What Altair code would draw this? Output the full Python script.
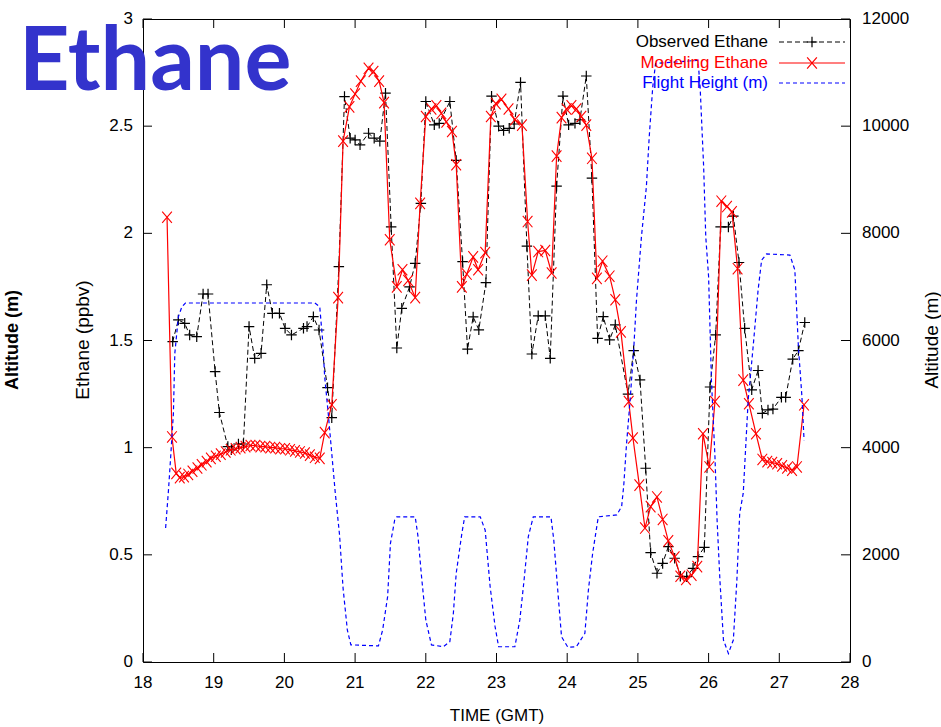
import altair as alt
import pandas as pd

# ---- observed ethane (ppbv) ----
obs_time = [18.42, 18.50, 18.59, 18.66, 18.76, 18.85, 18.92, 19.02, 19.08, 19.20,
            19.25, 19.35, 19.42, 19.50, 19.58, 19.67, 19.75, 19.83, 19.93, 20.01,
            20.10, 20.27, 20.32, 20.41, 20.49, 20.61, 20.67, 20.77, 20.85, 20.93,
            21.00, 21.07, 21.19, 21.27, 21.35, 21.43, 21.51, 21.59, 21.66, 21.77,
            21.85, 21.93, 22.00, 22.12, 22.19, 22.34, 22.43, 22.52, 22.59, 22.67,
            22.75, 22.85, 22.93, 23.03, 23.10, 23.18, 23.25, 23.34, 23.43, 23.50,
            23.59, 23.69, 23.76, 23.85, 23.94, 24.02, 24.11, 24.18, 24.27, 24.35,
            24.43, 24.51, 24.60, 24.68, 24.86, 24.94, 25.03, 25.11, 25.18, 25.27,
            25.35, 25.43, 25.52, 25.60, 25.69, 25.78, 25.85, 25.94, 26.02, 26.10,
            26.17, 26.28, 26.35, 26.43, 26.51, 26.61, 26.70, 26.76, 26.84, 26.91,
            27.03, 27.09, 27.19, 27.27, 27.36]
obs_ethane = [1.495, 1.596, 1.58, 1.526, 1.518, 1.717, 1.717, 1.355, 1.164, 1.005,
              0.99, 1.017, 1.017, 1.565, 1.417, 1.44, 1.76, 1.627, 1.627, 1.557,
              1.526, 1.557, 1.565, 1.611, 1.549, 1.28, 1.14, 1.845, 2.638, 2.444,
              2.436, 2.413, 2.467, 2.444, 2.43, 2.654, 2.03, 1.465, 1.65, 1.75,
              1.86, 2.14, 2.615, 2.506, 2.513, 2.615, 2.34, 1.868, 1.46, 1.61,
              1.55, 1.77, 2.64, 2.50, 2.48, 2.49, 2.51, 2.704, 1.94, 1.437,
              1.615, 1.615, 1.417, 2.22, 2.64, 2.506, 2.513, 2.53, 2.734, 2.258,
              1.51, 1.611, 1.503, 1.573, 1.25, 1.453, 1.316, 0.904, 0.51, 0.414,
              0.46, 0.538, 0.484, 0.40, 0.398, 0.437, 0.492, 0.535, 1.283, 1.526,
              2.03, 2.03, 2.08, 1.864, 1.557, 1.27, 1.36, 1.16, 1.176, 1.18,
              1.235, 1.235, 1.413, 1.453, 1.584]

# ---- modelled ethane (ppbv) ----
mod_time = [18.34, 18.41, 18.47, 18.52, 18.58, 18.64, 18.70, 18.77, 18.83, 18.90,
            18.96, 19.03, 19.10, 19.17, 19.24, 19.31, 19.38, 19.45, 19.52, 19.59,
            19.66, 19.73, 19.80, 19.87, 19.94, 20.01, 20.08, 20.15, 20.22, 20.29,
            20.36, 20.43, 20.50, 20.57, 20.67, 20.76, 20.83, 20.92, 21.00, 21.08,
            21.19, 21.26, 21.34, 21.41, 21.49, 21.59, 21.67, 21.75, 21.85, 21.92,
            22.00, 22.08, 22.15, 22.22, 22.29, 22.37, 22.43, 22.51, 22.58, 22.67,
            22.74, 22.84, 22.92, 22.99, 23.07, 23.17, 23.26, 23.36, 23.44, 23.50,
            23.59, 23.69, 23.78, 23.85, 23.92, 23.99, 24.06, 24.13, 24.20, 24.27,
            24.35, 24.42, 24.50, 24.60, 24.68, 24.76, 24.87, 24.93, 25.02, 25.10,
            25.18, 25.27, 25.35, 25.43, 25.52, 25.60, 25.68, 25.76, 25.84, 25.92,
            26.01, 26.09, 26.18, 26.26, 26.33, 26.41, 26.49, 26.57, 26.67, 26.76,
            26.83, 26.90, 26.97, 27.04, 27.11, 27.18, 27.25, 27.35]
mod_ethane = [2.075, 1.05, 0.88, 0.86, 0.865, 0.875, 0.89, 0.905, 0.92, 0.935,
              0.95, 0.96, 0.97, 0.98, 0.99, 0.995, 1.0, 1.005, 1.01, 1.01,
              1.005, 1.005, 1.0, 1.0, 0.995, 0.995, 0.99, 0.985, 0.98, 0.975,
              0.965, 0.955, 0.95, 1.07, 1.2, 1.70, 2.43, 2.59, 2.65, 2.71,
              2.77, 2.755, 2.71, 2.61, 1.97, 1.75, 1.83, 1.78, 1.70, 2.14,
              2.545, 2.58, 2.595, 2.56, 2.52, 2.475, 2.32, 1.75, 1.81, 1.89,
              1.83, 1.91, 2.545, 2.605, 2.625, 2.58, 2.53, 2.505, 2.055, 1.805,
              1.915, 1.92, 1.815, 2.36, 2.54, 2.58, 2.595, 2.58, 2.545, 2.505,
              2.35, 1.79, 1.87, 1.80, 1.69, 1.54, 1.215, 1.045, 0.825, 0.625,
              0.725, 0.77, 0.665, 0.565, 0.49, 0.40, 0.385, 0.405, 0.445, 1.065,
              0.91, 1.215, 2.15, 2.125, 2.10, 1.835, 1.315, 1.205, 1.065, 0.945,
              0.935, 0.93, 0.925, 0.915, 0.905, 0.895, 0.91, 1.20]

# ---- flight height (m) ----
fl_time = [18.32, 18.36, 18.39, 18.43, 18.45, 18.50, 18.55, 18.60, 20.43, 20.50,
           20.54, 20.57, 20.62, 20.67, 20.72, 20.78, 20.83, 20.89, 20.94, 21.33,
           21.39, 21.46, 21.50, 21.56, 21.59, 21.85, 21.89, 21.94, 22.00, 22.08,
           22.25, 22.34, 22.39, 22.43, 22.51, 22.55, 22.77, 22.84, 22.91, 22.98,
           23.03, 23.26, 23.33, 23.39, 23.45, 23.52, 23.77, 23.81, 23.87, 23.92,
           24.01, 24.13, 24.25, 24.30, 24.36, 24.44, 24.70, 24.77, 24.80, 24.84,
           24.89, 24.94, 24.98, 25.05, 25.12, 25.16, 25.21, 25.25, 25.85, 25.88,
           25.93, 25.96, 26.00, 26.04, 26.09, 26.12, 26.16, 26.21, 26.28, 26.35,
           26.40, 26.44, 26.49, 26.56, 26.63, 26.70, 26.75, 26.82, 27.15, 27.22,
           27.27, 27.32, 27.35]
fl_height = [2500, 3200, 3800, 4640, 5760, 6440, 6630, 6700, 6700, 6630,
             6010, 5320, 4640, 3890, 3150, 2370, 1375, 600, 320, 300,
             600, 1220, 2215, 2650, 2710, 2710, 2340, 1590, 785, 320,
             285, 380, 910, 1655, 2400, 2710, 2710, 2460, 1405, 660,
             285, 285, 785, 1530, 2340, 2710, 2710, 2280, 1280, 470,
             275, 285, 535, 1345, 2030, 2710, 2745, 2900, 3300, 4080,
             4890, 5820, 6755, 7935, 8870, 9800, 10735, 11170, 11230, 10735,
             9240, 7935, 7190, 5260, 3830, 2650, 1530, 410, 160, 410,
             1530, 2775, 3150, 4890, 5885, 6940, 7500, 7615, 7595, 7315,
             5885, 4950, 4140]

# ---- axis ticks ----
time_ticks = list(range(18, 29))
ethane_ticks = [0, 0.5, 1, 1.5, 2, 2.5, 3]
height_ticks = [0, 2000, 4000, 6000, 8000, 10000, 12000]

FONT = "Liberation Sans"
W, H = 707, 643
TICK = 9

PLUS = "M-1,0L1,0M0,-1L0,1"
CROSS = "M-0.85,-1L0.85,1M-0.85,1L0.85,-1"

obs_df = pd.DataFrame({"time": obs_time, "ethane": obs_ethane})
mod_df = pd.DataFrame({"time": mod_time, "ethane": mod_ethane})
fl_df = pd.DataFrame({"time": fl_time, "height": fl_height})

x_scale = alt.Scale(domain=[18, 28], nice=False, zero=False)
y_scale = alt.Scale(domain=[0, 3], nice=False)
y2_scale = alt.Scale(domain=[0, 12000], nice=False)


def X(field):
    return alt.X(field, scale=x_scale, axis=None)


def Y(field):
    return alt.Y(field, scale=y_scale, axis=None)


def Y2(field):
    return alt.Y(field, scale=y2_scale, axis=None)


obs_line = alt.Chart(obs_df).mark_line(color="black", strokeWidth=1, strokeDash=[5, 3]).encode(
    x=X("time:Q"), y=Y("ethane:Q"))
obs_pts = alt.Chart(obs_df).mark_point(shape=PLUS, size=110, color="black", filled=False,
                                       strokeWidth=1.2, opacity=1).encode(
    x=X("time:Q"), y=Y("ethane:Q"))

mod_line = alt.Chart(mod_df).mark_line(color="#ff0000", strokeWidth=1.2).encode(
    x=X("time:Q"), y=Y("ethane:Q"))
mod_pts = alt.Chart(mod_df).mark_point(shape=CROSS, size=130, color="#ff0000", filled=False,
                                       strokeWidth=1.1, opacity=1).encode(
    x=X("time:Q"), y=Y("ethane:Q"))

fl_line = alt.Chart(fl_df).mark_line(color="#0000ff", strokeWidth=1.2, strokeDash=[4, 3]).encode(
    x=X("time:Q"), y=Y2("height:Q"))

# inward tick marks on all four sides, plus their labels
xt_df = pd.DataFrame({"t": time_ticks, "lab": [str(t) for t in time_ticks]})
yt_df = pd.DataFrame({"v": ethane_ticks, "lab": [f"{v:g}" for v in ethane_ticks]})
y2t_df = pd.DataFrame({"v": height_ticks, "lab": [str(v) for v in height_ticks]})

bottom_ticks = alt.Chart(xt_df).mark_rule(color="black", strokeWidth=1).encode(
    x=X("t:Q"), y=alt.value(H), y2=alt.value(H - TICK))
top_ticks = alt.Chart(xt_df).mark_rule(color="black", strokeWidth=1).encode(
    x=X("t:Q"), y=alt.value(0), y2=alt.value(TICK))
left_ticks = alt.Chart(yt_df).mark_rule(color="black", strokeWidth=1).encode(
    y=Y("v:Q"), x=alt.value(0), x2=alt.value(TICK))
right_ticks = alt.Chart(y2t_df).mark_rule(color="black", strokeWidth=1).encode(
    y=Y2("v:Q"), x=alt.value(W), x2=alt.value(W - TICK))

bottom_labels = alt.Chart(xt_df).mark_text(font=FONT, fontSize=17, color="black",
                                           align="center", baseline="middle").encode(
    x=X("t:Q"), y=alt.value(H + 21), text="lab:N")
left_labels = alt.Chart(yt_df).mark_text(font=FONT, fontSize=17, color="black",
                                         align="right", baseline="middle").encode(
    y=Y("v:Q"), x=alt.value(-10), text="lab:N")
right_labels = alt.Chart(y2t_df).mark_text(font=FONT, fontSize=17, color="black",
                                           align="left", baseline="middle").encode(
    y=Y2("v:Q"), x=alt.value(W + 12), text="lab:N")


def label(text, x, y, size, color="black", angle=0, weight="normal",
          align="center", baseline="middle", font=FONT):
    return alt.Chart(pd.DataFrame({"label": [text]})).mark_text(
        font=font, fontSize=size, color=color, angle=angle, fontWeight=weight,
        align=align, baseline=baseline).encode(
        x=alt.value(x), y=alt.value(y), text="label:N")


def legend_rule(y, color, dash=None):
    kw = dict(color=color, strokeWidth=1.2)
    if dash:
        kw["strokeDash"] = dash
    return alt.Chart(pd.DataFrame({"k": [0]})).mark_rule(**kw).encode(
        x=alt.value(636), x2=alt.value(702), y=alt.value(y))


def legend_mark(y, shape, color, size):
    return alt.Chart(pd.DataFrame({"k": [0]})).mark_point(
        shape=shape, size=size, color=color, filled=False, strokeWidth=1.2, opacity=1).encode(
        x=alt.value(669), y=alt.value(y))


texts = [
    label("TIME (GMT)", 354, 697, 17),
    label("Ethane (ppbv)", -60, 321, 19, angle=270),
    label("Altitude (m)", 789, 321, 19, angle=270),
    label("Altitude (m)", -130, 321, 18, angle=270, weight="bold"),
    label("Observed Ethane", 625, 23, 17, align="right"),
    label("Modeling Ethane", 625, 44, 17, color="#ff0000", align="right"),
    label("Flight Height (m)", 625, 64, 17, color="#0000ff", align="right"),
    legend_rule(23, "black", [5, 3]),
    legend_mark(23, PLUS, "black", 110),
    legend_rule(44, "#ff0000"),
    legend_mark(44, CROSS, "#ff0000", 130),
    legend_rule(64, "#0000ff", [4, 3]),
    label("Ethane", -124, 71, 88, color="#3333cc", weight="bold",
          align="left", baseline="alphabetic", font="Lato"),
]

left_group = alt.layer(obs_line, obs_pts, mod_line, mod_pts,
                       bottom_ticks, top_ticks, left_ticks,
                       bottom_labels, left_labels)
right_group = alt.layer(fl_line, right_ticks, right_labels, *texts)

chart = alt.layer(left_group, right_group).resolve_scale(y="independent").properties(
    width=W, height=H,
    padding={"left": 143, "top": 19, "right": 91, "bottom": 65},
    autosize=alt.AutoSizeParams(type="none"),
    background="white",
).configure_view(stroke="black", strokeWidth=1)

chart.save("out.html", embed_options={"renderer": "svg", "actions": False})
